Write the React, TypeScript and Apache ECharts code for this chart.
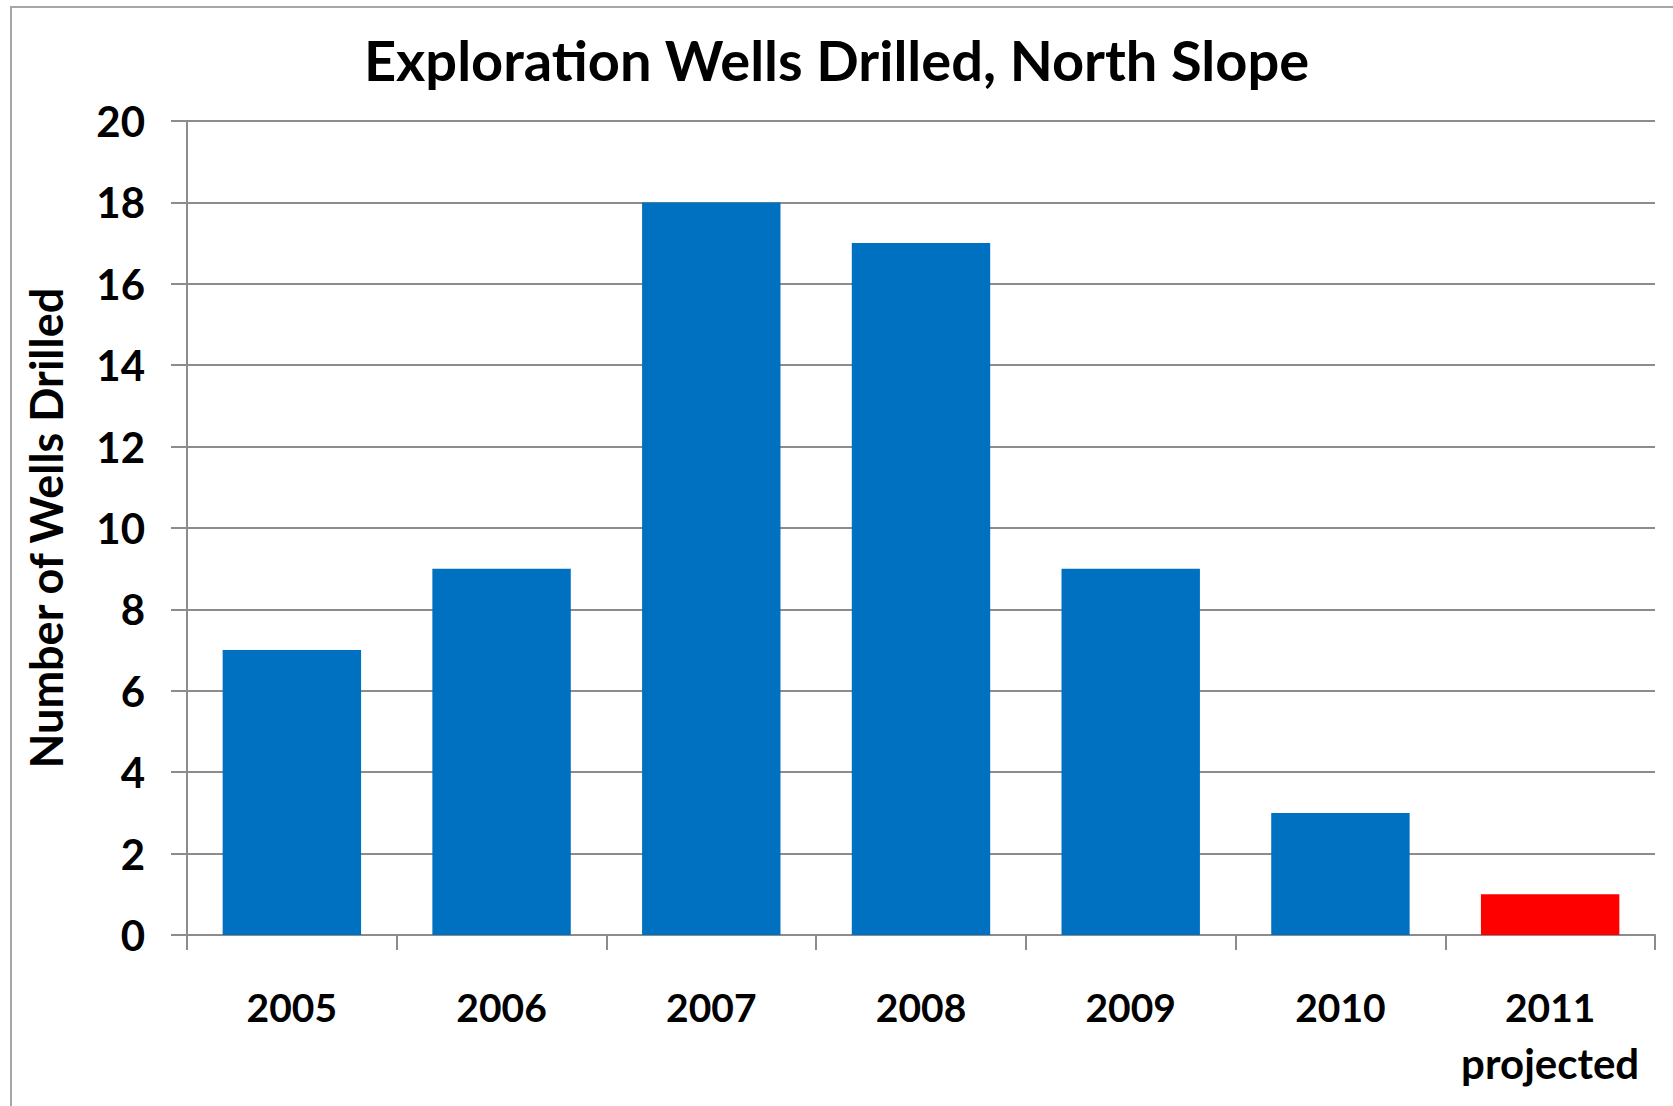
import React, { useEffect, useRef } from "react";
import * as echarts from "echarts";

const categories = ["2005", "2006", "2007", "2008", "2009", "2010", "2011\nprojected"];
const wells = [7, 9, 18, 17, 9, 3, 1];
const barColors = ["#0070C0", "#0070C0", "#0070C0", "#0070C0", "#0070C0", "#0070C0", "#FF0000"];
const yTicks = { min: 0, max: 20, interval: 2 };

const FONT = "Lato, 'Open Sans', sans-serif";
const GRAY = "#8c8c8c";

export default function App() {
  const ref = useRef<HTMLDivElement>(null);
  useEffect(() => {
    if (!ref.current) return;
    const chart = echarts.init(ref.current, null, { renderer: "svg" });
    chart.setOption({
      animation: false,
      backgroundColor: "#ffffff",
      title: {
        text: "Exploration Wells Drilled, North Slope",
        left: "center",
        top: 26,
        textStyle: { fontFamily: FONT, fontWeight: "bold", fontSize: 56, lineHeight: 56, color: "#000" },
      },
      graphic: [
        {
          type: "rect",
          shape: { x: 11, y: 7, width: 1800, height: 1300 },
          style: { fill: "none", stroke: "#a6a6a6", lineWidth: 2 },
          silent: true,
        },
      ],
      grid: { left: 187, right: 18, top: 121, bottom: 171, containLabel: false },
      xAxis: {
        type: "category",
        data: categories,
        axisLine: { show: true, lineStyle: { color: GRAY, width: 2 } },
        axisTick: { show: true, length: 15, lineStyle: { color: GRAY, width: 2 } },
        axisLabel: {
          margin: 44,
          fontFamily: FONT,
          fontWeight: "bold",
          fontSize: 39,
          lineHeight: 55,
          color: "#000",
          interval: 0,
          formatter: (v: string) => {
            const parts = v.split("\n");
            return parts.length > 1 ? `{y|${parts[0]}}\n{p|${parts[1]}}` : `{y|${v}}`;
          },
          rich: {
            y: { fontFamily: FONT, fontWeight: "bold", fontSize: 39, lineHeight: 55, color: "#000" },
            p: { fontFamily: FONT, fontWeight: "bold", fontSize: 42, lineHeight: 57, color: "#000" },
          },
        },
      },
      yAxis: {
        type: "value",
        min: yTicks.min,
        max: yTicks.max,
        interval: yTicks.interval,
        name: "Number of Wells Drilled",
        nameLocation: "middle",
        nameRotate: 90,
        nameGap: 119,
        nameTextStyle: { fontFamily: FONT, fontWeight: "bold", fontSize: 45, color: "#000" },
        axisLine: { show: true, lineStyle: { color: GRAY, width: 2 } },
        axisTick: { show: true, inside: false, length: 16, lineStyle: { color: GRAY, width: 2 } },
        axisLabel: { margin: 42, fontFamily: FONT, fontWeight: "bold", fontSize: 42, color: "#000" },
        splitLine: { show: true, lineStyle: { color: GRAY, width: 2 } },
      },
      series: [
        {
          type: "bar",
          data: wells.map((v, i) => ({ value: v, itemStyle: { color: barColors[i] } })),
          barWidth: "66%",
        },
      ],
    });
    return () => chart.dispose();
  }, []);
  return <div ref={ref} style={{ position: "fixed", left: 0, top: 0, width: 1673, height: 1106 }} />;
}
